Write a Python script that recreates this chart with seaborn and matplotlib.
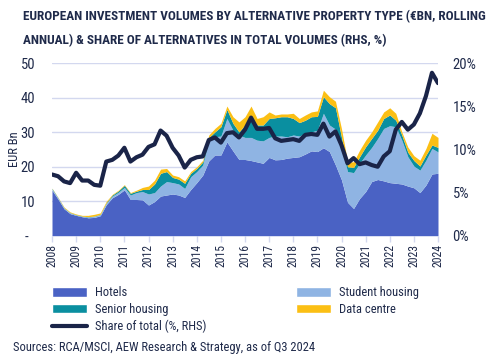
import numpy as np
import pandas as pd
import matplotlib
matplotlib.use("Agg")
import matplotlib.pyplot as plt
import seaborn as sns
from matplotlib import font_manager
from matplotlib.patches import Patch
from matplotlib.lines import Line2D

# rolling annual volumes, EUR bn, quarterly
quarters = pd.period_range("2008Q3", "2024Q3", freq="Q")
hotels = [13.2, 10.6, 7.8, 6.4, 5.9, 5.5, 5.2, 5.3, 5.8, 9.0,
          11.0, 12.0, 13.3, 10.5, 10.5, 10.4, 8.9, 9.9, 11.5, 11.8,
          12.1, 11.8, 11.1, 13.4, 15.4, 17.6, 21.7, 23.4, 23.4, 27.2,
          24.6, 22.1, 22.1, 21.8, 21.4, 21.0, 22.7, 22.0, 22.1, 22.5,
          22.7, 22.9, 23.7, 24.6, 24.4, 25.5, 24.4, 20.5, 16.2, 9.7,
          7.9, 10.8, 12.8, 15.7, 16.3, 15.9, 15.4, 15.2, 15.0, 14.4,
          13.9, 12.5, 14.7, 17.9, 18.1]
student = [0.3, 0.3, 0.2, 0.2, 0.1, 0.1, 0.2, 0.3, 0.3, 0.4,
           0.5, 0.6, 0.7, 1.3, 2.0, 2.4, 3.2, 2.6, 2.9, 3.9,
           3.3, 3.2, 2.6, 3.7, 3.2, 2.9, 6.0, 5.3, 5.5, 6.8,
           6.0, 7.1, 6.4, 6.7, 6.3, 6.5, 5.8, 6.9, 6.8, 6.2,
           6.5, 6.0, 6.0, 5.5, 6.2, 10.0, 7.7, 10.4, 9.3, 8.9,
           10.4, 10.2, 10.6, 9.9, 11.9, 15.2, 16.5, 16.4, 12.7, 8.5,
           6.3, 6.5, 7.2, 7.4, 6.2]
senior = [0.2, 0.1, 0.1, 0.1, 0.1, 0.1, 0.1, 0.1, 0.1, 0.2,
          0.3, 0.4, 0.6, 0.5, 0.4, 0.6, 1.3, 2.5, 3.7, 2.9,
          1.5, 1.4, 1.5, 1.0, 0.9, 0.9, 0.8, 1.4, 2.7, 2.6,
          2.0, 0.9, 3.6, 6.0, 4.4, 4.6, 5.5, 5.3, 5.6, 5.8,
          4.8, 3.9, 3.8, 4.4, 4.0, 4.8, 6.2, 6.2, 3.0, 1.4,
          1.5, 1.9, 2.4, 2.6, 2.4, 2.9, 3.1, 1.9, 1.5, 1.3,
          1.6, 1.2, 1.5, 1.0, 1.3]
data_centre = [0.1, 0.1, 0.2, 0.2, 0.2, 0.2, 0.4, 0.5, 0.4, 0.4,
               0.2, 0.2, 0.2, 0.2, 0.3, 0.6, 1.0, 1.1, 1.2, 0.9,
               0.7, 0.7, 0.7, 0.5, 0.5, 0.5, 0.7, 1.0, 1.0, 1.0,
               1.9, 2.9, 2.4, 3.1, 1.9, 2.4, 1.9, 0.8, 0.8, 0.8,
               1.5, 1.2, 1.5, 1.4, 1.6, 1.9, 2.0, 1.9, 2.5, 1.5,
               1.6, 1.9, 1.9, 1.9, 2.4, 1.9, 2.1, 2.0, 0.9, 1.5,
               1.4, 1.7, 1.9, 3.4, 2.9]
# share of alternatives in total volumes, %
share = [7.1, 6.9, 6.3, 6.1, 7.3, 6.4, 6.4, 5.9, 5.8, 8.6,
         8.8, 9.3, 10.2, 8.6, 9.1, 9.4, 10.3, 10.6, 12.2, 11.6,
         10.2, 9.3, 7.9, 8.8, 9.1, 9.2, 11.1, 11.4, 10.8, 11.9,
         12.0, 11.4, 12.3, 13.7, 12.4, 12.4, 12.5, 11.3, 11.0, 11.1,
         11.2, 11.0, 11.7, 11.8, 11.7, 13.0, 11.5, 12.1, 10.5, 8.4,
         9.0, 8.3, 8.5, 8.2, 8.0, 9.2, 9.8, 12.3, 13.2, 12.3,
         12.9, 14.2, 16.2, 18.9, 17.7]

labels = ["Hotels", "Student housing", "Senior housing", "Data centre"]
colors = ["#4a62c4", "#8fb4e3", "#0a8fa0", "#fbbf14"]
navy = "#1a2448"
text_col = "#1f2a4a"
grid_col = "#d3d8ef"

sns.set_theme(style="white")
installed = {f.name for f in font_manager.fontManager.ttflist}
font = next((f for f in ["Liberation Sans Narrow", "Roboto Condensed", "Open Sans Condensed"]
             if f in installed), "Roboto")
plt.rcParams["font.family"] = [font, "DejaVu Sans"]
plt.rcParams["text.color"] = text_col

df = pd.DataFrame({"quarter": quarters.astype(str), "share": share})
x = np.arange(len(quarters))

fig = plt.figure(figsize=(4.87, 3.62), dpi=100)
ax = fig.add_axes([52 / 487, 1 - 235.7 / 362, 386 / 487, 172.4 / 362])

ax.stackplot(x, hotels, student, senior, data_centre, colors=colors, linewidth=0)
ax.set_xlim(0, len(x) - 1)
ax.set_ylim(0, 50)
ax.set_yticks([0, 10, 20, 30, 40, 50])
ax.set_yticklabels(["-  ", "10", "20", "30", "40", "50"])
ax.yaxis.grid(True, color=grid_col, linewidth=1)
ax.set_axisbelow(True)
ax.set_ylabel("EUR Bn", fontsize=9, color=text_col, labelpad=0)

year_pos = [i for i, q in enumerate(quarters) if q.quarter == 3]
ax.set_xticks(year_pos)
ax.set_xticklabels([str(quarters[i].year) for i in year_pos], rotation=90, fontsize=8.5)
ax.tick_params(axis="x", bottom=True, length=4, width=1, color=grid_col, pad=2, labelcolor=text_col)
ax.tick_params(axis="y", left=False, length=0, pad=12, labelsize=10.5, labelcolor=text_col)
for s in ax.spines.values():
    s.set_visible(False)

ax2 = ax.twinx()
sns.lineplot(x=x, y=df["share"], ax=ax2, color=navy, linewidth=3.0,
             solid_capstyle="round", solid_joinstyle="round")
ax2.set_ylim(0, 20)
ax2.set_yticks([0, 5, 10, 15, 20])
ax2.set_yticklabels([f"{v}%" for v in [0, 5, 10, 15, 20]])
ax2.tick_params(axis="y", right=False, length=0, pad=10.5, labelsize=10.5, labelcolor=text_col)
ax2.set_ylabel("")
for s in ax2.spines.values():
    s.set_visible(False)

handles = [Patch(facecolor=colors[0], label=labels[0]),
           Patch(facecolor=colors[2], label=labels[2]),
           Line2D([0], [0], color=navy, linewidth=3, solid_capstyle="round",
                  label="Share of total (%, RHS)"),
           Patch(facecolor=colors[1], label=labels[1]),
           Patch(facecolor=colors[3], label=labels[3])]
fig.legend(handles=handles, loc="upper left", bbox_to_anchor=(46 / 487, 1 - 280 / 362),
           ncol=2, frameon=False, fontsize=9, handlelength=2.8, handleheight=0.8,
           handletextpad=0.6, labelspacing=0.3, columnspacing=7.2, borderpad=0)

fig.text(23 / 487, 1 - 17 / 362,
         "EUROPEAN INVESTMENT VOLUMES BY ALTERNATIVE PROPERTY TYPE (€BN, ROLLING",
         fontsize=9.5, fontweight="bold", color=text_col, va="center")
fig.text(23 / 487, 1 - 41 / 362,
         "ANNUAL) & SHARE OF ALTERNATIVES IN TOTAL VOLUMES (RHS, %)",
         fontsize=9.5, fontweight="bold", color=text_col, va="center")
fig.text(13 / 487, 1 - 348 / 362,
         "Sources: RCA/MSCI, AEW Research & Strategy, as of Q3 2024",
         fontsize=9, color=text_col, va="center")

fig.savefig("out.png", dpi=100)
